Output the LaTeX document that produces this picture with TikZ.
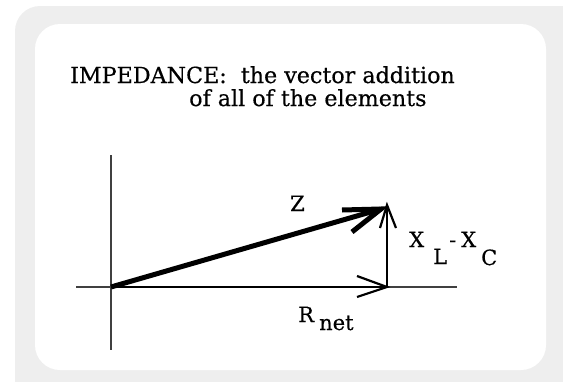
\documentclass[tikz,border=0pt]{standalone}
\usepackage{fontspec}
\newfontfamily\picfont{DejaVu Serif}[FakeBold=0.4]
\usetikzlibrary{calc}
\definecolor{panelgray}{HTML}{EEEEEE}
\definecolor{axisgray}{HTML}{404040}
\tikzset{
  axisline/.style={draw=axisgray, line width=1.1pt},
  vecline/.style={draw=black, line width=2.2pt, line join=miter},
  zline/.style={draw=black, line width=5pt, line join=miter},
  titletext/.style={inner sep=0pt, anchor=base west, font=\picfont\fontsize{22.2}{23}\selectfont},
  labeltext/.style={inner sep=0pt, anchor=base west, font=\picfont\fontsize{21}{21}\selectfont},
}
\begin{document}
\begin{tikzpicture}[x=1pt,y=-1pt]
\useasboundingbox (0,0) rectangle (563,381);
\clip (0,0) rectangle (563,381);
\fill[panelgray, rounded corners=25pt] (15,6) rectangle (600,420);
\fill[white, rounded corners=25pt] (35,24) rectangle (546,370);
% title
\node[titletext] (t1) at (70,83) {IMPEDANCE:\ \ the vector addition};
\node[titletext] (t2) at (189,106) {of all of the elements};
% coordinates
\coordinate (O) at (111,287);
\coordinate (R) at (387,287);
\coordinate (T) at (387,205);
\coordinate (Zt) at (381,209);
\coordinate (axl) at (76,287);
\coordinate (axr) at (457,287);
\coordinate (ayt) at (111,155);
\coordinate (ayb) at (111,350);
% axes
\draw[axisline] (axl) -- (axr);
\draw[axisline] (ayt) -- (ayb);
% R vector
\draw[vecline] (O) -- (R);
\draw[vecline] ($(R)+(-30,-11)$) -- (R) -- ($(R)+(-30,10)$);
% X vector
\draw[vecline] (R) -- (T);
\draw[vecline] ($(T)+(-7,23)$) -- (T) -- ($(T)+(9,23)$);
% Z vector
\draw[zline] (O) -- (Zt);
\draw[zline] ($(Zt)+(-39,1)$) -- (Zt) -- ($(Zt)+(-29,23)$);
% labels
\node[labeltext] (lz) at (290,211) {Z};
\node[labeltext] (lx1) at (409,247) {X};
\node[labeltext] (lsl) at (433,264) {L};
\node[labeltext] (lmin) at (449,247) {-};
\node[labeltext] (lx2) at (461,247) {X};
\node[labeltext] (lsc) at (481,265) {C};
\node[labeltext] (lr) at (298,322) {R};
\node[labeltext] (lnet) at (319,330) {net};
\end{tikzpicture}
\end{document}
